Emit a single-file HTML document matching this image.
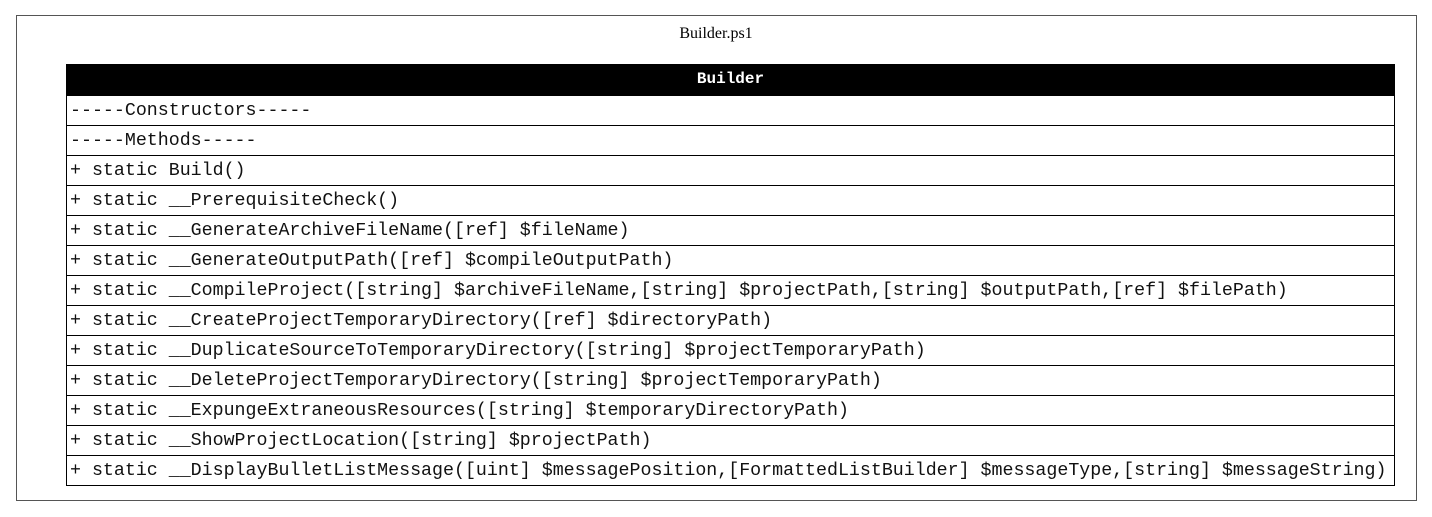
<!DOCTYPE html>
<html><head><style>
body{margin:0;width:1432px;height:517px;background:#fff;position:relative;overflow:hidden}
.outer{position:absolute;left:16px;top:15px;width:1399px;height:484px;border:1px solid #555}
.title{position:absolute;left:0;width:1432px;top:25px;text-align:center;font:16px "Liberation Serif",serif}
.tbl{position:absolute;left:66px;top:64px;width:1327px;border:1px solid #000;border-top:none}
.h{background:#000;color:#fff;height:31px;text-align:center;font:bold 16px/31px "Liberation Mono",monospace}
.r{height:29px;border-top:1px solid #000;font:18.3px/30px "Liberation Mono",monospace;padding-left:3px;white-space:pre;color:#111}
</style></head><body>
<div class="outer"></div>
<div class="title">Builder.ps1</div>
<div class="tbl">
<div class="h">Builder</div>
<div class="r">-----Constructors-----</div>
<div class="r">-----Methods-----</div>
<div class="r">+ static Build()</div>
<div class="r">+ static __PrerequisiteCheck()</div>
<div class="r">+ static __GenerateArchiveFileName([ref] $fileName)</div>
<div class="r">+ static __GenerateOutputPath([ref] $compileOutputPath)</div>
<div class="r">+ static __CompileProject([string] $archiveFileName,[string] $projectPath,[string] $outputPath,[ref] $filePath)</div>
<div class="r">+ static __CreateProjectTemporaryDirectory([ref] $directoryPath)</div>
<div class="r">+ static __DuplicateSourceToTemporaryDirectory([string] $projectTemporaryPath)</div>
<div class="r">+ static __DeleteProjectTemporaryDirectory([string] $projectTemporaryPath)</div>
<div class="r">+ static __ExpungeExtraneousResources([string] $temporaryDirectoryPath)</div>
<div class="r">+ static __ShowProjectLocation([string] $projectPath)</div>
<div class="r">+ static __DisplayBulletListMessage([uint] $messagePosition,[FormattedListBuilder] $messageType,[string] $messageString)</div>
</div>
</body></html>
